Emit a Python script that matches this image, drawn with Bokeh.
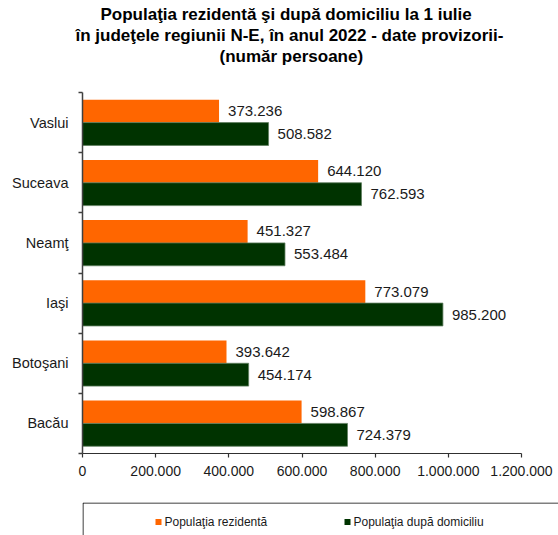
from bokeh.plotting import figure
from bokeh.layouts import column
from bokeh.models import Range1d, FixedTicker, ColumnDataSource, Title
from bokeh.core.properties import value
from bokeh.embed import file_html
from bokeh.resources import INLINE

# ---- data ----
counties = ["Bacău", "Botoşani", "Iaşi", "Neamţ", "Suceava", "Vaslui"]
resident = [598867, 393642, 773079, 451327, 644120, 373236]
domicile = [724379, 454174, 985200, 553484, 762593, 508582]
x_ticks = [0, 200000, 400000, 600000, 800000, 1000000, 1200000]
x_tick_labels = ["0", "200.000", "400.000", "600.000", "800.000", "1.000.000", "1.200.000"]
series_names = ["Populaţia rezidentă", "Populaţia după domiciliu"]
title_lines = [
    "Populaţia rezidentă  şi după domiciliu la 1 iulie",
    "în judeţele regiunii N-E, în anul 2022 - date provizorii-",
    "(număr persoane)",
]
colors = ["#FF6600", "#003300"]

W, H = 558, 535
AX_L, AX_R = 82, 521          # pixel span of 0 .. 1.200.000
FT, FB = 92, 453              # frame top/bottom (page px)
LEG_TOP = 502
FONT = "Liberation Sans"
TXT = "#1a1a1a"
XMAX = x_ticks[-1]


def fmt(v):
    return f"{v:,}".replace(",", ".")


n = len(counties)
ypos = list(range(1, n + 1))
off = 0.19
src = ColumnDataSource(dict(
    yr=[y + off for y in ypos], yd=[y - off for y in ypos],
    res=resident, dom=domicile,
    lr=[fmt(v) for v in resident], ld=[fmt(v) for v in domicile],
))

px = XMAX / (AX_R - AX_L)     # data units per pixel
p = figure(width=W, height=LEG_TOP,
           x_range=Range1d(0, XMAX + (W - AX_R) * px),
           y_range=Range1d(0.5, n + 0.5),
           toolbar_location=None, output_backend="svg",
           min_border_left=AX_L, min_border_right=0,
           min_border_top=FT, min_border_bottom=LEG_TOP - FB)
p.outline_line_color = None
p.grid.visible = False

p.hbar(y="yr", left=0, right="res", height=0.38, source=src,
       fill_color=colors[0], line_color=None)
p.hbar(y="yd", left=0, right="dom", height=0.38, source=src,
       fill_color=colors[1], line_color="#5f7f5f", line_width=0.8)

p.text(x="res", y="yr", text="lr", source=src, x_offset=9,
       text_font=value(FONT), text_font_size="15px", text_color=TXT,
       text_align="left", text_baseline="middle")
p.text(x="dom", y="yd", text="ld", source=src, x_offset=9,
       text_font=value(FONT), text_font_size="15px", text_color=TXT,
       text_align="left", text_baseline="middle")

# y axis: labels at category centres, ticks at boundaries
ya = p.yaxis[0]
ya.ticker = FixedTicker(ticks=ypos, minor_ticks=[y - 0.5 for y in ypos] + [n + 0.5])
ya.major_label_overrides = {y: c for y, c in zip(ypos, counties)}
ya.major_tick_out = 0
ya.major_tick_in = 0
ya.minor_tick_out = 4
ya.minor_tick_in = 0
ya.major_label_standoff = 10
ya.major_label_text_font = FONT
ya.major_label_text_font_size = "14.5px"
ya.major_label_text_color = TXT
ya.axis_line_color = "#404040"
ya.axis_line_width = 1.5
ya.minor_tick_line_color = "#404040"
ya.minor_tick_line_width = 1.5

xa = p.xaxis[0]
xa.bounds = (0, XMAX)
xa.ticker = FixedTicker(ticks=x_ticks, minor_ticks=[])
xa.major_label_overrides = {t: l for t, l in zip(x_ticks, x_tick_labels)}
xa.major_tick_out = 4
xa.major_tick_in = 0
xa.minor_tick_out = 0
xa.major_label_standoff = 8
xa.major_label_text_font = FONT
xa.major_label_text_font_size = "14px"
xa.major_label_text_color = TXT
xa.axis_line_color = "#303030"
xa.axis_line_width = 1.2
xa.major_tick_line_color = "#303030"
xa.major_tick_line_width = 1.2

# ---- title: spacer nearest the plot, then the three lines bottom-up ----
p.add_layout(Title(text="\u00a0", standoff=0, text_font_size="22.3px"), "above")
for line, start_x in zip(reversed(title_lines), [219, 75, 100]):
    p.add_layout(Title(text=line, align="left", offset=start_x - AX_L, standoff=0,
                       text_font=FONT, text_font_style="bold",
                       text_font_size="17px", text_color="black"), "above")

# ---- legend strip (page coordinates: x left->right, y top->bottom) ----
pl = figure(width=W, height=H - LEG_TOP, x_range=Range1d(AX_L, W), y_range=Range1d(H, LEG_TOP),
            x_axis_type=None, y_axis_type=None,
            min_border_left=AX_L, min_border_right=0, min_border_top=0, min_border_bottom=0,
            toolbar_location=None, output_backend="svg")
pl.outline_line_color = None
pl.grid.visible = False
pl.line(x=[AX_L + 0.5, AX_L + 0.5, W], y=[H, LEG_TOP + 0.5, LEG_TOP + 0.5],
        line_color="black", line_width=1)
leg_x = [158, 347]
leg_y = [521.5, 521.5]
pl.scatter(x=leg_x, y=leg_y, marker="square", size=6, fill_color=colors,
           line_color=None)
pl.text(x=[x + 6 for x in leg_x], y=leg_y, text=series_names,
        text_font=value(FONT), text_font_size="12px", text_color=TXT,
        text_align="left", text_baseline="middle")

layout = column(p, pl)
open("out.html", "w").write(file_html(layout, INLINE))
